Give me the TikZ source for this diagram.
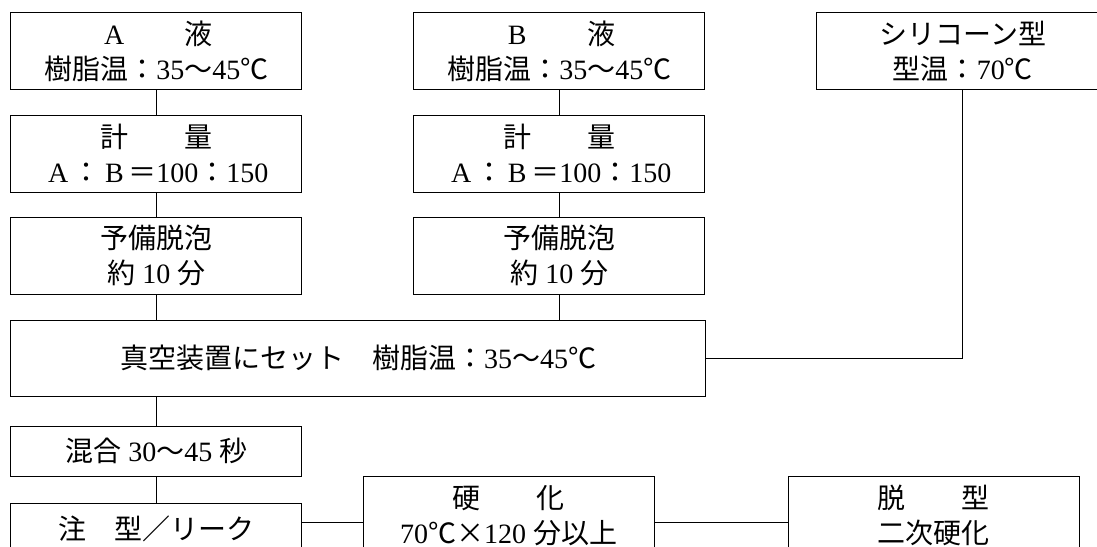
\documentclass[tikz,border=0pt]{standalone}
\usepackage{fontspec}
\setmainfont{Liberation Serif}
\newfontfamily\jp{Noto Sans CJK JP}

\tikzset{box/.style={draw,line width=1pt,inner sep=0pt,align=center,
    minimum width=291pt,minimum height=77pt,font=\fontsize{28}{35}\selectfont},
  link/.style={line width=1pt}}

\begin{document}
\begin{tikzpicture}[x=1pt,y=-1pt]

    \useasboundingbox (0,0) rectangle (1097,546);
    \clip (0,0) rectangle (1097,546);

    % the two resin columns
    \foreach \s/\x in {A/156.35,B/559.3}{
      \node[box] (\s1) at (\x,51.2) {\makebox[1em]{\s}{\jp 　　液}\\{\jp 樹脂温：}35{\jp ～}45{\jp ℃}};
      \node[box] (\s2) at (\x,153.7) {{\jp 計　　量}\\\makebox[1em]{A}{\jp ：}\makebox[1em]{B}{\jp ＝}100{\jp ：}150};
      \node[box] (\s3) at (\x,255.8) {{\jp 予備脱泡}\\{\jp 約}\hspace{.25em}10\hspace{.25em}{\jp 分}};
      \draw[link] (\s1) -- (\s2);
      \draw[link] (\s2) -- (\s3);
    }

    \node[box,minimum width=292pt] (sil) at (962.85,51.2) {{\jp シリコーン型}\\{\jp 型温：}70{\jp ℃}};
    \node[box,minimum width=694.6pt,minimum height=76.7pt] (vac) at (358,358.35) {{\jp 真空装置にセット　樹脂温：}35{\jp ～}45{\jp ℃}};
    \node[box,minimum height=50.7pt] (mix) at (156.35,451.35) {{\jp 混合}\hspace{.25em}30{\jp ～}45\hspace{.25em}{\jp 秒}};
    \node[box,minimum height=50.7pt] (chu) at (156.35,528.65) {{\jp 注　型／リーク}};
    \node[box] (kou) at (508.5,515.2) {{\jp 硬　　化}\\70{\jp ℃×}120\hspace{.25em}{\jp 分以上}};
    \node[box,minimum width=290.7pt] (dat) at (933.65,515.2) {{\jp 脱　　型}\\{\jp 二次硬化}};

    \draw[link] (A3) -- (vac.north -| A3);
    \draw[link] (B3) -- (vac.north -| B3);
    \draw[link] (sil) |- (vac);
    \draw[link] (vac.south -| mix) -- (mix);
    \draw[link] (mix) -- (chu);

    \coordinate (lk) at (0,522);
    \draw[link] (chu.east |- lk) -- (kou.west |- lk);
    \draw[link] (kou.east |- lk) -- (dat.west |- lk);

\end{tikzpicture}
\end{document}
